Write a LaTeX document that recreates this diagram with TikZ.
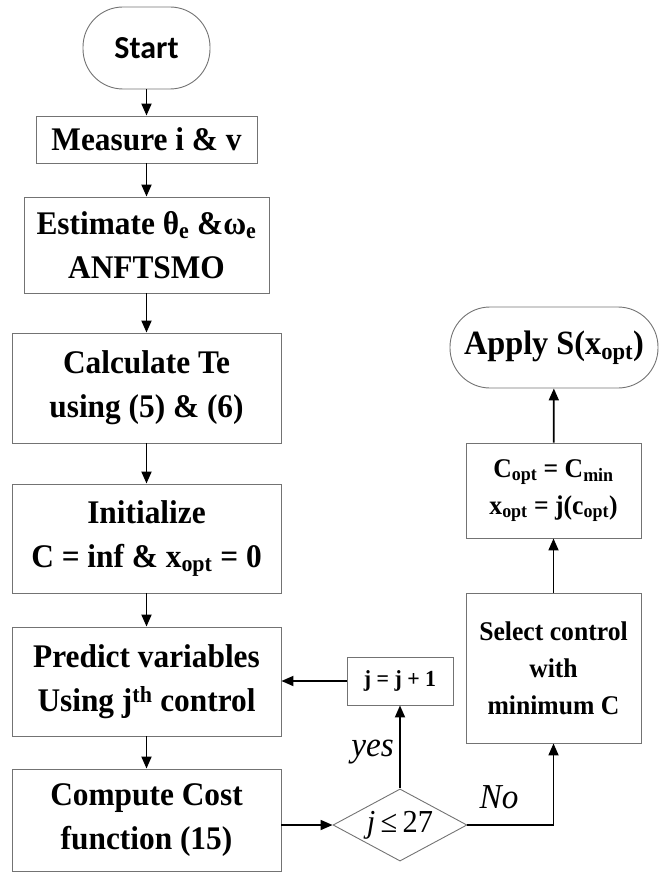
\documentclass[tikz,border=0pt]{standalone}
\usepackage{fontspec}
\setmainfont{Liberation Serif}[FakeStretch=0.95]
\newfontfamily\carl{Carlito}
\usetikzlibrary{arrows.meta,shapes.geometric}
\begin{document}
\begin{tikzpicture}[x=1pt,y=-1pt,
  box/.style={draw=black!55,line width=0.9pt,inner sep=0pt,align=center,
    font=\bfseries\fontsize{33}{44}\selectfont},
  term/.style={box,rounded corners=40pt},
  smallbox/.style={box,font=\bfseries\fontsize{27}{37}\selectfont},
  arr/.style={line width=1.8pt,-{Triangle[length=12pt,width=10pt]}},
  lab/.style={font=\itshape\fontsize{35}{40}\selectfont,inner sep=0pt}]
\useasboundingbox (0,0) rectangle (670,874);
\node[term,minimum width=127,minimum height=82,font=\carl\bfseries\fontsize{32}{40}\selectfont] (start) at (146.5,48) {Start};
\node[box,minimum width=221,minimum height=47] (measure) at (146.5,139.5) {Measure i \& v};
\node[box,minimum width=245,minimum height=96] (estimate) at (146.5,245) {Estimate θ\textsubscript{e} \&ω\textsubscript{e}\\ANFTSMO};
\node[box,minimum width=269,minimum height=110] (calc) at (146.5,388) {Calculate Te\\using (5) \& (6)};
\node[box,minimum width=269,minimum height=109] (init) at (146.5,538.5) {Initialize\\C = inf \& x\textsubscript{opt} = 0};
\node[box,minimum width=269,minimum height=109] (predict) at (146.5,681.5) {Predict variables\\Using j\textsuperscript{th} control};
\node[box,minimum width=269,minimum height=102] (compute) at (146.5,820) {Compute Cost\\function (15)};
\node[draw=black!55,line width=0.9pt,diamond,aspect=1.5,minimum width=134,inner sep=0pt,
  font=\fontsize{32}{36}\selectfont] (dec) at (400,825) {\textit{j}\,≤\,27};
\node[box,minimum width=106,minimum height=48,font=\bfseries\fontsize{23}{26}\selectfont] (jinc) at (400,681) {j = j + 1};
\node[smallbox,minimum width=175,minimum height=150] (select) at (553.5,668) {Select control\\with\\minimum C};
\node[smallbox,minimum width=175,minimum height=95] (copt) at (553.5,490.5) {C\textsubscript{opt} = C\textsubscript{min}\\x\textsubscript{opt} = j(c\textsubscript{opt})};
\node[term,minimum width=208,minimum height=81,font=\bfseries\fontsize{34}{40}\selectfont] (apply) at (554,347.5) {Apply S(x\textsubscript{opt})};
\draw[arr] (start) -- (measure);
\draw[arr] (measure) -- (estimate);
\draw[arr] (estimate) -- (calc);
\draw[arr] (calc) -- (init);
\draw[arr] (init) -- (predict);
\draw[arr] (predict) -- (compute);
\draw[arr] (dec.west -| compute.east) -- (dec.west);
\draw[arr] (dec.north) -- (jinc.south);
\draw[arr] (jinc.west) -- (jinc.west -| predict.east);
\draw[arr] (dec.east) -| (select.south);
\draw[arr] (select) -- (copt);
\draw[arr] (copt) -- (apply);
\node[lab,anchor=east] (yes) at (394,752) {yes};
\node[lab] (no) at (499,797) {No};
\end{tikzpicture}
\end{document}
